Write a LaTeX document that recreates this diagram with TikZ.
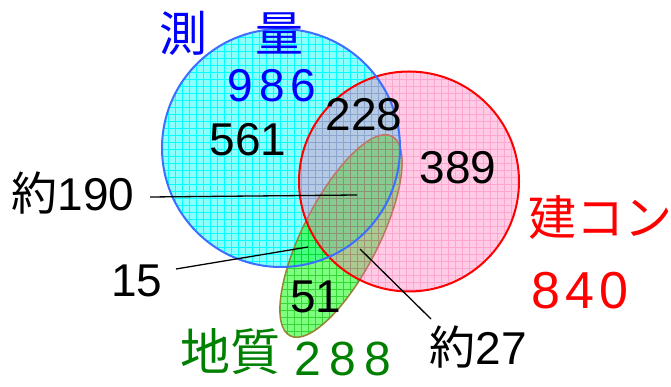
\documentclass[tikz,border=0pt]{standalone}
\usepackage{fontspec}
\setmainfont{Liberation Sans}
\newfontfamily\jp{Noto Sans CJK JP}
\definecolor{bcirc}{RGB}{0,255,255}
\definecolor{bline}{RGB}{60,110,255}
\definecolor{rfill}{RGB}{255,105,180}
\definecolor{rgrid}{RGB}{255,80,160}
\definecolor{gfill}{RGB}{0,255,0}
\definecolor{ggrid}{RGB}{0,190,0}
\definecolor{gline}{RGB}{150,130,50}
\definecolor{dgreen}{RGB}{0,128,0}
\begin{document}
\begin{tikzpicture}[x=1pt,y=1pt,
  num/.style={inner sep=0pt,font=\fontsize{46}{50}\selectfont},
  lbl/.style={inner sep=0pt,font=\jp\fontsize{48}{52}\selectfont},
  lead/.style={draw=black,line width=1.3pt},
  gridlines/.style={line width=0.5pt}]
\useasboundingbox (0,0) rectangle (671,387);
% blue circle fill + grid
\begin{scope}
  \clip (281,239) circle [radius=119];
  \fill[bcirc,opacity=0.45] (281,239) circle [radius=119];
  \draw[bcirc,gridlines,step=7] (160,118) grid (402,360);
\end{scope}
% green ellipse fill + grid
\begin{scope}
  \clip[rotate around={63:(341,151)}] (341,151) ellipse [x radius=112pt, y radius=38pt];
  \fill[gfill,opacity=0.5] (230,30) rectangle (460,270);
  \draw[ggrid,gridlines,opacity=0.6,step=7] (230,30) grid (460,270);
\end{scope}
\draw[gline,line width=1.5pt,rotate around={63:(341,151)}] (341,151) ellipse [x radius=112pt, y radius=38pt];
% red circle fill + grid
\begin{scope}
  \clip (409,205.5) circle [radius=110];
  \fill[rfill,opacity=0.35] (409,205.5) circle [radius=110];
  \draw[rgrid,gridlines,opacity=0.3,step=7] (297,94) grid (521,317);
\end{scope}
% borders
\draw[red,line width=2pt] (409,205.5) circle [radius=110];
\draw[bline,line width=2pt] (281,239) circle [radius=119];
% texts
\node[lbl,text=blue] (tsoku) at (231,354) {測　量};
\node[num,text=blue,font=\fontsize{46}{50}\selectfont] (t986) at (272,301) {9\hspace{6pt}8\hspace{6pt}6};
\node[num] (t561) at (248,247) {561};
\node[num] (t228) at (364,272) {228};
\node[num] (t389) at (458,219) {389};
\node[num] (t190) at (73,194) {{\jp 約}190};
\node[num] (t15) at (137,106) {15};
\node[num] (t51) at (316,90) {51};
\node[num] (t27) at (478,40) {{\jp 約}27};
\node[lbl,text=dgreen,font=\jp\fontsize{50}{54}\selectfont] (tchi) at (230,35) {地質};
\node[num,text=dgreen,font=\fontsize{48}{52}\selectfont] (t288) at (343,28) {2\hspace{8pt}8\hspace{8pt}8};
\node[lbl,text=red] (tken) at (600,169) {建コン};
\node[num,text=red,font=\fontsize{52}{56}\selectfont] (t840) at (580,96) {8\hspace{5.5pt}4\hspace{5.5pt}0};
% leader lines
\coordinate (s190) at (150,190);
\coordinate (e190) at (357,192);
\coordinate (s15) at (176,118);
\coordinate (e15) at (308,140);
\coordinate (s27) at (431,68);
\coordinate (e27) at (360,138);
\draw[lead] (s190) -- (e190);
\draw[lead] (s15) -- (e15);
\draw[lead] (s27) -- (e27);
\end{tikzpicture}
\end{document}
